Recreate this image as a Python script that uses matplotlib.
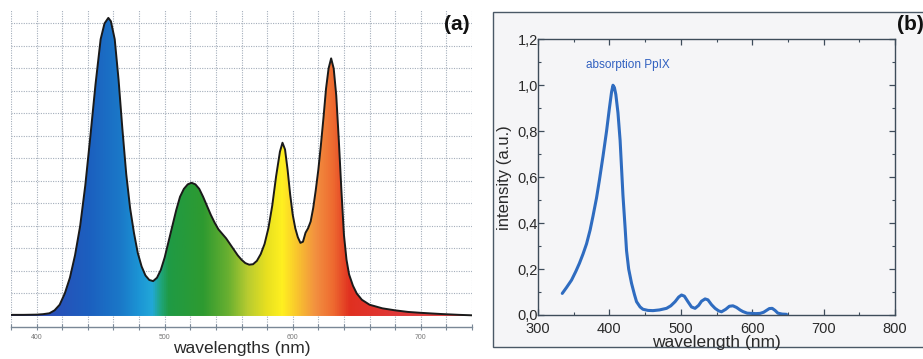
import numpy as np
import matplotlib
matplotlib.use("Agg")
import matplotlib.pyplot as plt
from matplotlib.colors import LinearSegmentedColormap
from matplotlib.patches import Rectangle
from matplotlib.ticker import MultipleLocator, FixedLocator

plt.rcParams['font.family'] = ['Liberation Sans', 'DejaVu Sans']

# ---------------- data panel (a): LED emission spectrum ----------------
wl_a = [380, 390, 400, 405, 410, 414, 418, 422, 426, 430, 434, 438, 442, 446, 450, 453,
        456, 458, 461, 464, 467, 470, 473, 476, 479, 482, 485, 488, 491, 494, 497, 500,
        503, 506, 509, 512, 515, 518, 521, 524, 527, 530, 533, 536, 539, 542, 545, 548,
        551, 554, 557, 560, 563, 566, 569, 572, 575, 578, 581, 584, 587, 590, 592, 594,
        596, 598, 600, 602, 604, 606, 608, 610, 612, 614, 616, 618, 620, 622, 624, 626,
        628, 630, 632, 634, 636, 638, 640, 642, 644, 647, 650, 654, 660, 670, 680, 690,
        700, 715, 730, 740]
int_a = [0.05, 0.05, 0.06, 0.08, 0.12, 0.25, 0.5, 1.0, 1.7, 2.7, 4.0, 5.8, 8.0, 10.3, 12.3, 13.0,
         13.25, 13.1, 12.3, 10.5, 8.3, 6.3, 4.8, 3.7, 2.8, 2.2, 1.8, 1.6, 1.55, 1.7, 2.05, 2.6,
         3.3, 4.0, 4.7, 5.3, 5.65, 5.85, 5.92, 5.85, 5.65, 5.3, 4.9, 4.5, 4.15, 3.85, 3.65, 3.45,
         3.2, 2.95, 2.7, 2.5, 2.35, 2.28, 2.3, 2.45, 2.75, 3.2, 3.9, 4.9, 6.2, 7.3, 7.7, 7.4,
         6.5, 5.4, 4.5, 3.9, 3.5, 3.25, 3.3, 3.7, 3.9, 4.2, 4.8, 5.6, 6.5, 7.6, 8.8, 10.1,
         11.0, 11.45, 11.0, 9.8, 7.8, 5.6, 3.6, 2.5, 1.85, 1.35, 1.0, 0.72, 0.5, 0.34, 0.25, 0.18,
         0.14, 0.09, 0.05, 0.03]
ticks_a = [400, 500, 600, 700]

# spectral colour stops (wavelength, colour)
spec_wl = [380, 410, 440, 465, 480, 490, 497, 503, 530, 550, 565, 580, 592, 605, 618, 632, 645, 680, 740]
spec_col = ['#3a3fb0', '#2a4fb8', '#1c5fbf', '#1a78c8', '#1c95d5', '#22a8d8', '#1fa57a', '#1f9a45',
            '#2e9a30', '#6ab030', '#b8cc30', '#e8e020', '#fff020', '#f8c030', '#f29040', '#ee6a30',
            '#e03020', '#e03838', '#e04848']

# ---------------- data panel (b): PpIX absorption ----------------
wl_b = [334, 340, 347, 353, 358, 363, 368, 373, 377, 382, 386, 391, 396, 400, 403, 405,
        407, 409, 412, 415, 419, 422, 424, 427, 431, 435, 438, 443, 447, 454, 461, 470,
        480, 486, 492, 497, 501, 505, 510, 515, 520, 525, 529, 534, 538, 543, 548, 553,
        557, 563, 568, 573, 578, 583, 587, 593, 599, 605, 611, 616, 620, 624, 628, 632,
        636, 642, 648]
int_b = [0.094, 0.12, 0.152, 0.19, 0.225, 0.265, 0.31, 0.37, 0.43, 0.51, 0.587, 0.69, 0.80, 0.90, 0.97, 1.0,
         0.99, 0.96, 0.88, 0.76, 0.52, 0.38, 0.28, 0.2, 0.138, 0.09, 0.058, 0.035, 0.025, 0.02, 0.019, 0.022,
         0.029, 0.04, 0.058, 0.078, 0.087, 0.082, 0.058, 0.035, 0.029, 0.042, 0.06, 0.07, 0.066, 0.045, 0.029, 0.018,
         0.014, 0.025, 0.038, 0.04, 0.033, 0.022, 0.015, 0.008, 0.007, 0.006, 0.007, 0.012, 0.02, 0.028, 0.029, 0.02,
         0.008, 0.004, 0.003]
yticks_b = [0.0, 0.2, 0.4, 0.6, 0.8, 1.0, 1.2]
ytick_labels_b = ['0,0', '0,2', '0,4', '0,6', '0,8', '1,0', '1,2']
xticks_b = [300, 400, 500, 600, 700, 800]

W, H = 923, 359
fig = plt.figure(figsize=(W / 100, H / 100), dpi=100)
fig.patch.set_facecolor('white')

# ================= panel (a) =================
axa = fig.add_axes([11 / W, 1 - 327 / H, (472 - 11) / W, (327 - 10) / H])
axa.set_facecolor('white')
ymin_a, ymax_a = -0.49, 13.6
grid_col = '#a4aebb'
for gx in range(380, 741, 20):
    axa.axvline(gx, color=grid_col, lw=0.8, ls=(0, (1, 1.2)), zorder=0)
for gy in range(1, 14):
    axa.axhline(gy, color=grid_col, lw=0.8, ls=(0, (1, 1.2)), zorder=0)

cmap = LinearSegmentedColormap.from_list(
    'spec', [((w - 380) / 360, c) for w, c in zip(spec_wl, spec_col)])
fill = axa.fill_between(wl_a, int_a, 0, facecolor='none', edgecolor='none')
img = axa.imshow(np.linspace(0, 1, 512)[None, :], extent=[380, 740, 0, 14],
                 aspect='auto', cmap=cmap, interpolation='bilinear', zorder=1)
img.set_clip_path(fill.get_paths()[0], axa.transData)
axa.plot(wl_a, int_a, color='#1a1a1a', lw=1.4, zorder=2)

axa.set_xlim(380, 740)
axa.set_ylim(ymin_a, ymax_a)
for s in ['top', 'right', 'left']:
    axa.spines[s].set_visible(False)
axa.spines['bottom'].set_color('#7a8896')
axa.spines['bottom'].set_linewidth(1.0)
axa.set_yticks([])
axa.xaxis.set_major_locator(FixedLocator(ticks_a))
axa.xaxis.set_minor_locator(MultipleLocator(20))
axa.tick_params(axis='x', which='both', direction='inout', length=4, width=0.8,
                color='#7a8896', labelsize=5, labelcolor='#777777', pad=3)
axa.set_xticklabels([str(t) for t in ticks_a])
axa.set_xlabel('wavelengths (nm)', fontsize=12.5, color='#2a2a2a', labelpad=0)
fig.text(470 / W, 1 - 25 / H, '(a)', fontsize=15, fontweight='bold',
         ha='right', va='center', color='#111111')

# ================= panel (b) =================
frame = Rectangle((493 / W, 1 - 347 / H), 1.0, (347 - 12) / H, transform=fig.transFigure,
                  facecolor='#f5f5f7', edgecolor='#4a5866', lw=1.0, zorder=-5)
fig.patches.append(frame)

axb = fig.add_axes([538 / W, 1 - 315 / H, (895 - 538) / W, (315 - 39.3) / H])
axb.set_zorder(3)
axb.set_facecolor('#f5f5f7')
axb.plot(wl_b, int_b, color='#2f6cc0', lw=2.2, solid_capstyle='round')
axb.set_xlim(300, 800)
axb.set_ylim(0, 1.2)
axb.xaxis.set_major_locator(FixedLocator(xticks_b))
axb.xaxis.set_minor_locator(MultipleLocator(50))
axb.yaxis.set_major_locator(FixedLocator(yticks_b))
axb.yaxis.set_minor_locator(MultipleLocator(0.1))
axb.set_yticklabels(ytick_labels_b)
axb.set_xticklabels([str(t) for t in xticks_b])
for s in axb.spines.values():
    s.set_color('#3e4c5a')
    s.set_linewidth(1.0)
axb.tick_params(which='both', direction='in', top=True, right=True, color='#3e4c5a')
axb.tick_params(which='major', length=4, width=0.9)
axb.tick_params(which='minor', length=2.5, width=0.8)
axb.tick_params(axis='y', labelsize=10.5, pad=0, labelcolor='#2a2a2a')
axb.tick_params(axis='x', labelsize=10.5, pad=5, labelcolor='#2a2a2a')
axb.set_xlabel('wavelength (nm)', fontsize=12.5, color='#2a2a2a', labelpad=-1)
axb.set_ylabel('intensity (a.u.)', fontsize=12, color='#2a2a2a', labelpad=4)
axb.text(367, 1.09, 'absorption PpIX', fontsize=8.5, color='#3060c0', ha='left', va='center')
fig.text(897 / W, 1 - 25 / H, '(b)', fontsize=15, fontweight='bold',
         ha='left', va='center', color='#111111', zorder=10)

fig.savefig('out.png', dpi=100, facecolor='white')
